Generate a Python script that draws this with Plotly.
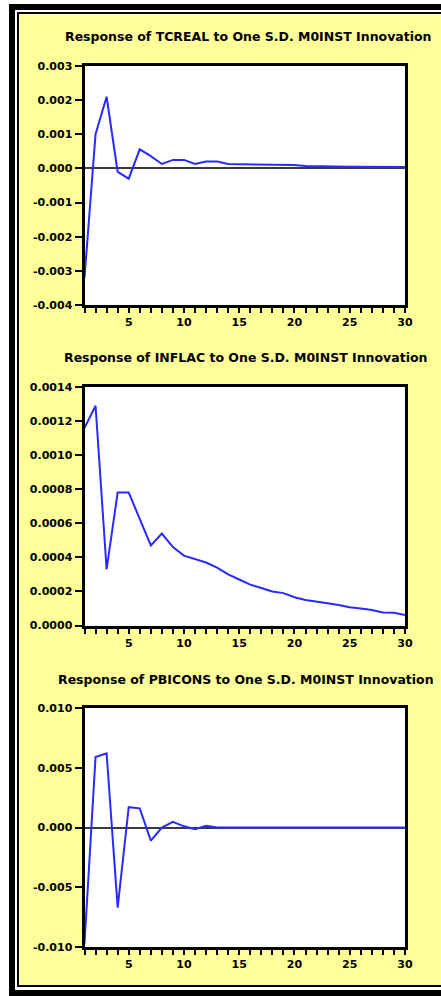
import plotly.graph_objects as go

# Impulse responses to a one S.D. M0INST innovation, periods 1..30
periods = list(range(1, 31))

tcreal = [-0.0032, 0.0010, 0.0021, -0.0001, -0.0003, 0.00056, 0.00036, 0.00013,
          0.00025, 0.00025, 0.00013, 0.00020, 0.00020, 0.00013, 0.00012, 0.00012,
          0.00011, 0.00011, 0.00011, 0.00010, 0.00007, 0.00006, 0.00006, 0.00005,
          0.00005, 0.00005, 0.00005, 0.00004, 0.00004, 0.00004]

inflac = [0.00116, 0.00129, 0.00033, 0.00078, 0.00078, 0.00063, 0.00047, 0.00054,
          0.00046, 0.00041, 0.00039, 0.00037, 0.00034, 0.00030, 0.00027, 0.00024,
          0.00022, 0.00020, 0.00019, 0.000166, 0.00015, 0.000138, 0.00013, 0.00012,
          0.000107, 0.00010, 0.000091, 0.000077, 0.000075, 0.000062]

pbicons = [-0.0097, 0.0059, 0.0062, -0.0067, 0.0017, 0.0016, -0.0011, 0.0000,
           0.00048, 0.0001, -0.00014, 0.00014, 0.0, 0.0, 0.0, 0.0, 0.0, 0.0, 0.0,
           0.0, 0.0, 0.0, 0.0, 0.0, 0.0, 0.0, 0.0, 0.0, 0.0, 0.0]

titles = ["Response of TCREAL to One S.D. M0INST Innovation",
          "Response of INFLAC to One S.D. M0INST Innovation",
          "Response of PBICONS to One S.D. M0INST Innovation"]

yticks_1 = [0.003, 0.002, 0.001, 0.0, -0.001, -0.002, -0.003, -0.004]
ylabels_1 = ["0.003", "0.002", "0.001", "0.000", "-0.001", "-0.002", "-0.003", "-0.004"]
yticks_2 = [0.0014, 0.0012, 0.0010, 0.0008, 0.0006, 0.0004, 0.0002, 0.0]
ylabels_2 = ["0.0014", "0.0012", "0.0010", "0.0008", "0.0006", "0.0004", "0.0002", "0.0000"]
yticks_3 = [0.010, 0.005, 0.0, -0.005, -0.010]
ylabels_3 = ["0.010", "0.005", "0.000", "-0.005", "-0.010"]

W, H = 441, 996
BG = "#FFFF99"
LINE = "#2a2aff"
FONT = "DejaVu Sans"


def px_x(p):
    return p / W


def px_y(p):
    return 1 - p / H


fig = go.Figure()

series = [tcreal, inflac, pbicons]
for i, s in enumerate(series, start=1):
    fig.add_trace(go.Scatter(x=periods, y=s, mode="lines",
                             line=dict(color=LINE, width=2),
                             xaxis=f"x{i}" if i > 1 else "x",
                             yaxis=f"y{i}" if i > 1 else "y",
                             showlegend=False, hoverinfo="skip"))

# panel layout in pixels: (top, bottom) of the plotting area
panels = [(66, 305, [-0.004, 0.003], yticks_1, ylabels_1, True),
          (387, 625.5, [0.0, 0.0014], yticks_2, ylabels_2, False),
          (708, 947, [-0.010, 0.010], yticks_3, ylabels_3, True)]

tick_font = dict(family=FONT, size=11, color="black", weight="bold")

xdom = [px_x(84.5), px_x(405)]
for i, (top, bot, rng, tv, tt, zl) in enumerate(panels, start=1):
    sx = "" if i == 1 else str(i)
    fig.layout[f"xaxis{sx}"] = dict(
        domain=xdom, range=[1, 30], anchor=f"y{sx}",
        tick0=0, dtick=5, ticks="outside", ticklen=5, tickwidth=2,
        tickcolor="black", showline=True, linewidth=3, linecolor="black",
        mirror=True, showgrid=False, zeroline=False, tickfont=tick_font,
        minor=dict(dtick=1, ticks="outside", ticklen=5, tickwidth=2,
                   tickcolor="black", showgrid=False),
        automargin=False, fixedrange=True)
    fig.layout[f"yaxis{sx}"] = dict(
        domain=[px_y(bot), px_y(top)], range=rng, anchor=f"x{sx}",
        tickvals=tv, ticktext=tt, ticks="outside", ticklen=7, tickwidth=2,
        tickcolor="black", showline=True, linewidth=3, linecolor="black",
        mirror=True, showgrid=False, zeroline=zl, zerolinecolor="#3a3a3a",
        zerolinewidth=2, tickfont=tick_font, automargin=False, fixedrange=True)

title_pos = [(248, 36), (245, 357), (246, 679)]
annotations = []
for t, (cx, cy) in zip(titles, title_pos):
    annotations.append(dict(text=t, x=px_x(cx), y=px_y(cy), xref="paper",
                            yref="paper", showarrow=False, xanchor="center",
                            yanchor="middle",
                            font=dict(family=FONT, size=12.5, color="black",
                                      weight="bold")))


def rect(x0, y0, x1, y1, color):
    return dict(type="rect", xref="paper", yref="paper", x0=px_x(x0), x1=px_x(x1),
                y0=px_y(y1), y1=px_y(y0), fillcolor=color, line=dict(width=0),
                layer="above")


shapes = [
    # outer white margin
    rect(0, 0, 9, H, "white"), rect(0, 0, W, 4, "white"),
    # heavy outer frame
    rect(9, 4, 15, H, "black"), rect(9, 4, W, 10, "black"), rect(9, 990, W, H, "black"),
    # gap between frames
    rect(15, 10, 17, 990, "white"), rect(15, 10, W, 12, "white"), rect(15, 987, W, 990, "white"),
    # thin inner frame
    rect(17, 12, 19, 987, "black"), rect(17, 12, W, 14, "black"), rect(17, 985, W, 987, "black"),
]

fig.update_layout(width=W, height=H,
                  margin=dict(l=0, r=0, t=0, b=0, pad=0, autoexpand=False),
                  paper_bgcolor=BG, plot_bgcolor="white",
                  annotations=annotations, shapes=shapes)

fig.write_html("out.html", config={"displayModeBar": False})
